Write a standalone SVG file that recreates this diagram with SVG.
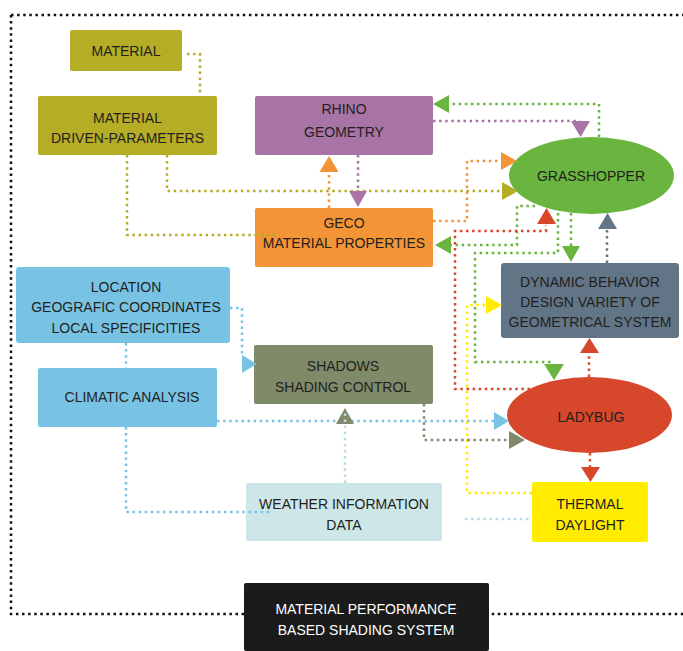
<svg xmlns="http://www.w3.org/2000/svg" width="683" height="651" viewBox="0 0 683 651">
<style>
text{font-family:"Liberation Sans",Arial,sans-serif;font-size:14px;fill:#231f20;text-anchor:middle}
.w{fill:#ffffff}
.d{fill:none;stroke-width:2.5;stroke-dasharray:2.5 3.6}
.k{stroke:#111111}
.ol{stroke:#b5ad25}.olf{fill:#b5ad25}
.pu{stroke:#a874a5}.puf{fill:#a874a5}
.or{stroke:#f39436}.orf{fill:#f39436}
.gr{stroke:#6ab53f}.grf{fill:#6ab53f}
.sl{stroke:#627586}.slf{fill:#627586}
.bl{stroke:#78c3e4}.blf{fill:#78c3e4}
.sh{stroke:#7f8a69}.shf{fill:#7f8a69}
.re{stroke:#d6472b}.ref{fill:#d6472b}
.ye{stroke:#ffec00}.yef{fill:#ffec00}
.lc{stroke:#b6dbe4}.lcf{fill:#cde6e8}
</style>
<rect width="683" height="651" fill="#ffffff"/>
<g id="frame">
<path class="d k" d="M11,15 H683 M11,15 V614 H683"/>
</g>
<g id="material"><rect x="70" y="30" width="112" height="41" rx="2" class="olf"/><text x="126" y="56">MATERIAL</text></g>
<g id="material-driven"><rect x="38" y="96" width="179" height="59" rx="2" class="olf"/><text x="127.5" y="123">MATERIAL</text><text x="127.5" y="143">DRIVEN-PARAMETERS</text></g>
<g id="rhino"><rect x="255" y="96" width="178" height="59" rx="2" class="puf"/><text x="344" y="114">RHINO</text><text x="344" y="137">GEOMETRY</text></g>
<g id="geco"><rect x="255" y="208" width="178" height="59" rx="2" class="orf"/><text x="344" y="228">GECO</text><text x="344" y="248">MATERIAL PROPERTIES</text></g>
<g id="grasshopper"><ellipse cx="591.5" cy="175.5" rx="82.5" ry="38.5" class="grf"/><text x="591" y="181">GRASSHOPPER</text></g>
<g id="dynamic"><rect x="501" y="263" width="178" height="75" rx="3" class="slf"/><text x="590" y="287">DYNAMIC BEHAVIOR</text><text x="590" y="307">DESIGN VARIETY OF</text><text x="590" y="327">GEOMETRICAL SYSTEM</text></g>
<g id="location"><rect x="16" y="267" width="214" height="76" rx="3" class="blf"/><text x="126" y="292">LOCATION</text><text x="126" y="312">GEOGRAFIC COORDINATES</text><text x="126" y="333">LOCAL SPECIFICITIES</text></g>
<g id="climatic"><rect x="38" y="368" width="179" height="59" rx="2" class="blf"/><text x="132" y="402">CLIMATIC ANALYSIS</text></g>
<g id="shadows"><rect x="254" y="345" width="179" height="59" rx="2" class="shf"/><text x="343" y="371">SHADOWS</text><text x="343" y="392">SHADING CONTROL</text></g>
<g id="ladybug"><ellipse cx="589.5" cy="415" rx="82.5" ry="38" class="ref"/><text x="591" y="422">LADYBUG</text></g>
<g id="weather"><rect x="246" y="483" width="196" height="58" rx="2" class="lcf"/><text x="344" y="509">WEATHER INFORMATION</text><text x="344" y="530">DATA</text></g>
<g id="thermal"><rect x="532" y="482" width="116" height="60" rx="2" class="yef"/><text x="590" y="509">THERMAL</text><text x="590" y="530">DAYLIGHT</text></g>
<g id="connectors">
<path class="d ol" d="M187,54 H200 V96"/>
<path class="d ol" d="M167,155 V191 H502"/><polygon class="olf" points="502,182 518,191 502,200"/>
<path class="d ol" d="M127,155 V235 H277"/>
<path class="d or" d="M329,208 V172"/><polygon class="orf" points="319.5,172 329,156 338.5,172"/>
<path class="d pu" d="M358,155 V191"/><polygon class="puf" points="349,191 367,191 358,207"/>
<path class="d pu" d="M433,121 H580"/><polygon class="puf" points="571,121 590,121 580.5,137"/>
<path class="d gr" d="M599,137 V104 H449"/><polygon class="grf" points="449,95 433,104 449,113"/>
<path class="d or" d="M433,221 H467 V161 H501"/><polygon class="orf" points="501,152 517,161 501,170"/>
<path class="d gr" d="M535,206 H517 V245 H451"/><polygon class="grf" points="451,236 435,245 451,254"/>
<path class="d re" d="M530,389 H455 V231 H546 V225"/><polygon class="ref" points="537,224 546.5,208 556,224"/>
<path class="d gr" d="M558,213 V253 H475 V362 H554"/><polygon class="grf" points="544,364 564,364 554,380"/>
<path class="d gr" d="M571,213 V246"/><polygon class="grf" points="562,246 580,246 571,262"/>
<path class="d sl" d="M607,263 V229"/><polygon class="slf" points="598,229 607.5,213 617,229"/>
<path class="d ye" d="M532,493 H467 V305 H486"/><polygon class="yef" points="486,296 502,305 486,314"/>
<path class="d bl" d="M230,308 H242 V355"/><polygon class="blf" points="242,355 257,364 242,373"/>
<path class="d bl" d="M126,343 V368"/>
<path class="d bl" d="M217,421 H494"/><polygon class="blf" points="494,412 509,421 494,430"/>
<path class="d bl" d="M126,427 V512 H270"/>
<polygon class="shf" points="336,424 345,408 354,424"/>
<path class="d lc" d="M345,483 V412"/>
<path class="d sh" d="M424,404 V440 H509"/><polygon class="shf" points="509,431 525,440 509,449"/>
<path class="d re" d="M590,453 V467"/><polygon class="ref" points="581,467 600,467 590.5,482"/>
<path class="d re" d="M589,377 V353"/><polygon class="ref" points="580,353 589.5,338 599,353"/>
<path class="d lc" d="M465,519 H532"/>
</g>
<g id="title"><rect x="244" y="583" width="245" height="68" rx="2" fill="#1b1b1b"/><text class="w" x="366" y="614">MATERIAL PERFORMANCE</text><text class="w" x="366" y="635">BASED SHADING SYSTEM</text></g>
</svg>
